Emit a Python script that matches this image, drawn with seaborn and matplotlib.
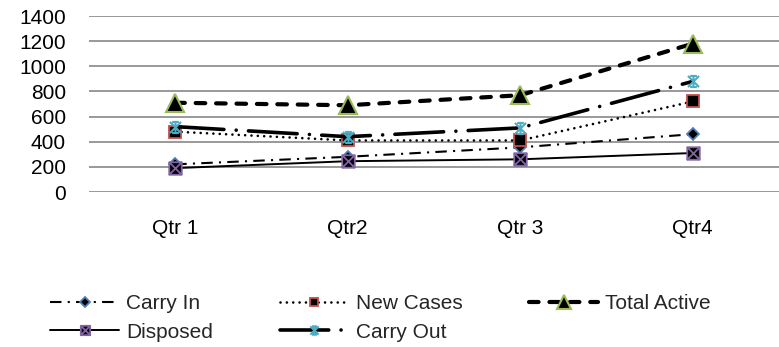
import numpy as np
import pandas as pd
import matplotlib
matplotlib.use("Agg")
import matplotlib.pyplot as plt
from matplotlib.path import Path
import seaborn as sns

# Quarterly case-flow figures
quarters = ["Qtr 1", "Qtr2", "Qtr 3", "Qtr4"]
carry_in = [220, 280, 355, 460]
new_cases = [480, 410, 410, 720]
total_active = [710, 690, 770, 1180]
disposed = [190, 245, 260, 310]
carry_out = [520, 440, 510, 880]
y_ticks = [0, 200, 400, 600, 800, 1000, 1200, 1400]

sns.set_theme(style="white")
plt.rcParams["font.family"] = ["Liberation Sans", "DejaVu Sans"]

# Custom markers: square with a cross, and an Excel-style star
sq_x = Path(
    [(-1, -1), (1, -1), (1, 1), (-1, 1), (-1, -1), (-1, -1), (1, 1), (-1, 1), (1, -1)],
    [Path.MOVETO, Path.LINETO, Path.LINETO, Path.LINETO, Path.CLOSEPOLY,
     Path.MOVETO, Path.LINETO, Path.MOVETO, Path.LINETO],
)
star = Path(
    [(-1, -1), (1, 1), (-1, 1), (1, -1), (0, -1), (0, 1),
     (-0.6, 1), (0.6, 1), (-0.6, -1), (0.6, -1)],
    [Path.MOVETO, Path.LINETO, Path.MOVETO, Path.LINETO, Path.MOVETO, Path.LINETO,
     Path.MOVETO, Path.LINETO, Path.MOVETO, Path.LINETO],
)

df = pd.DataFrame({
    "quarter": quarters,
    "Carry In": carry_in,
    "New Cases": new_cases,
    "Total Active": total_active,
    "Disposed": disposed,
    "Carry Out": carry_out,
})
df["pos"] = np.arange(len(quarters))

fig = plt.figure(figsize=(7.79, 3.47), dpi=100)
ax = fig.add_axes([89 / 779, 1 - 192 / 347, 690 / 779, 176 / 347])

styles = {
    "Carry In": dict(lw=1.5, dashes=(5.5, 3.0, 1.0, 3.0), dash_capstyle="butt",
                     marker="D", ms=6.5, mfc="black", mec="#4F81BD", mew=1.3),
    "New Cases": dict(lw=1.9, dashes=(0.01, 2.4), dash_capstyle="round",
                      marker="s", ms=8.5, mfc="black", mec="#C0504D", mew=1.3),
    "Total Active": dict(lw=3.0, dashes=(2.3, 2.6), dash_capstyle="round",
                         marker="^", ms=13, mfc="black", mec="#9BBB59", mew=1.5),
    "Disposed": dict(lw=1.4, marker=sq_x, ms=9, mfc="black", mec="#8064A2", mew=1.3),
    "Carry Out": dict(lw=2.6, dashes=(13.5, 3.4, 0.01, 3.4), dash_capstyle="round",
                      marker=star, ms=8, mfc="none", mec="#4BACC6", mew=1.5),
}

for name in ["Carry In", "New Cases", "Total Active", "Disposed", "Carry Out"]:
    sns.lineplot(data=df, x="pos", y=name, ax=ax, color="black", label=name,
                 sort=False, legend=False, **styles[name])

ax.set_xlim(-0.5, 3.5)
ax.set_ylim(0, 1400)
ax.set_yticks(y_ticks)
ax.set_yticklabels([str(v) for v in y_ticks])
ax.set_xticks(df["pos"])
ax.set_xticklabels(quarters)
ax.set_xlabel("")
ax.set_ylabel("")
ax.tick_params(axis="x", length=0, pad=19.5, labelsize=15, colors="black")
ax.tick_params(axis="y", length=0, pad=16.5, labelsize=15, colors="black")
ax.yaxis.grid(True, color="#878787", lw=1.2)
ax.xaxis.grid(False)
ax.set_axisbelow(True)
for s in ax.spines.values():
    s.set_visible(False)

handles, labels = ax.get_legend_handles_labels()
lookup = dict(zip(labels, handles))
order = ["Carry In", "Disposed", "New Cases", "Carry Out", "Total Active"]
fig.legend([lookup[k] for k in order], order, loc="center",
           bbox_to_anchor=(0.4885, 1 - 318 / 347), ncol=3, frameon=False,
           fontsize=15, handlelength=3.3, handletextpad=0.35,
           columnspacing=3.2, labelspacing=0.45, markerscale=0.75,
           borderpad=0.0)

fig.savefig("out.png", dpi=100)
